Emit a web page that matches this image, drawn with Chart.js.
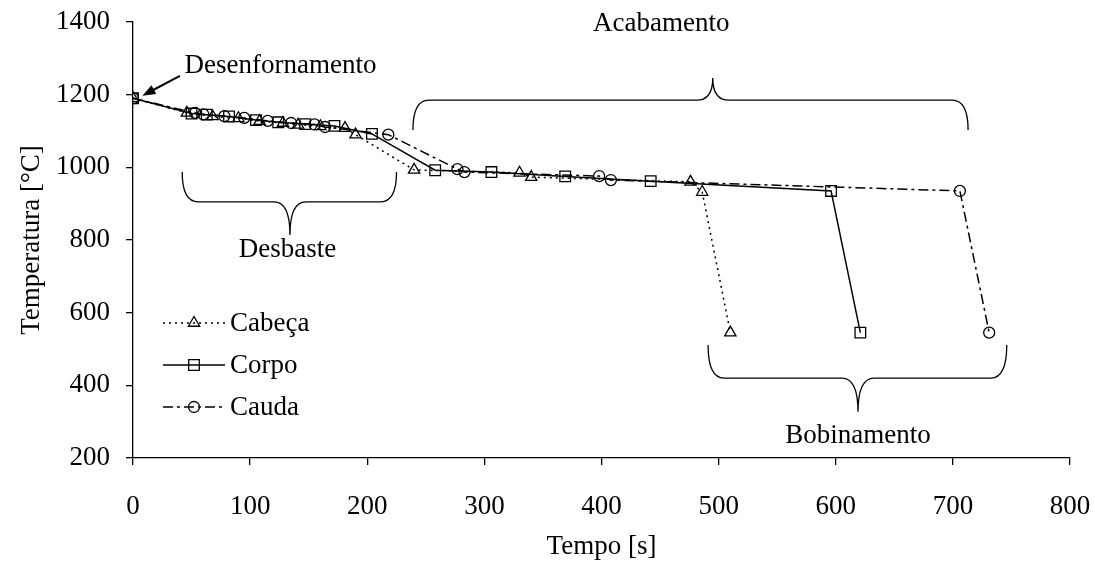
<!DOCTYPE html>
<html>
<head>
<meta charset="utf-8">
<title>Temperatura x Tempo</title>
<script src="https://cdn.jsdelivr.net/npm/chart.js@4.4.0/dist/chart.umd.min.js"></script>
<style>
  html, body { margin: 0; padding: 0; background: #fff; }
  #wrap { width: 1095px; height: 563px; position: relative; }
</style>
</head>
<body>
<div id="wrap"><canvas id="grafico"></canvas></div>
<script>
// tempo [s] e temperatura [°C] de cada posição da placa
var cabecaTempo = [0, 46, 68, 90, 108, 128, 141, 160, 181, 190, 240, 330, 340, 476, 486, 510];
var cabecaTemp  = [1190, 1150, 1140, 1135, 1127, 1122, 1117, 1113, 1108, 1090, 993, 985, 973, 960, 932, 545];

var corpoTempo = [0, 50, 63, 82, 105, 124, 147, 172, 204, 258, 306, 369, 442, 596, 621];
var corpoTemp  = [1190, 1148, 1145, 1140, 1130, 1124, 1119, 1114, 1092, 992, 987, 975, 962, 935, 545];

var caudaTempo = [0, 53, 60, 78, 95, 115, 135, 155, 164, 218, 277, 283, 398, 408, 706, 731];
var caudaTemp  = [1190, 1150, 1146, 1141, 1136, 1128, 1122, 1118, 1111, 1090, 995, 987, 976, 965, 935, 545];

var ticksX = [0, 100, 200, 300, 400, 500, 600, 700, 800];
var ticksY = [200, 400, 600, 800, 1000, 1200, 1400];

var fonte = "'Liberation Serif', 'Times New Roman', serif";
var tamFonte = 27;

function pontos(tempo, temp) {
	return tempo.map(function(t, i) { return { x: t, y: temp[i] }; });
}

// chaves e textos das fases do processo (em unidades dos eixos)
var chaves = [
	{ x1: 42, x2: 225, xc: 134, yPonta: 987, yMeio: 905, yBico: 814 },
	{ x1: 239, x2: 713, xc: 495, yPonta: 1103, yMeio: 1185, yBico: 1246 },
	{ x1: 491, x2: 746, xc: 619, yPonta: 511, yMeio: 420, yBico: 327 }
];
var textos = [
	{ t: 'Desbaste', x: 132, y: 772, align: 'center' },
	{ t: 'Acabamento', x: 451, y: 1395, align: 'center' },
	{ t: 'Bobinamento', x: 619, y: 262, align: 'center' },
	{ t: 'Desenfornamento', x: 44, y: 1280, align: 'left' }
];

function desenhaChave(ctx, x1, x2, xc, yP, yM, yB) {
	var r = Math.min(16, Math.abs(xc - x1) / 3);
	ctx.beginPath();
	ctx.moveTo(x1, yP);
	ctx.quadraticCurveTo(x1, yM, x1 + r, yM);
	ctx.lineTo(xc - r, yM);
	ctx.quadraticCurveTo(xc, yM, xc, yB);
	ctx.quadraticCurveTo(xc, yM, xc + r, yM);
	ctx.lineTo(x2 - r, yM);
	ctx.quadraticCurveTo(x2, yM, x2, yP);
	ctx.stroke();
}

var anotacoes = {
	id: 'anotacoes',
	afterDraw: function(chart) {
		var ctx = chart.ctx;
		var sx = chart.scales.x, sy = chart.scales.y;
		ctx.save();
		ctx.strokeStyle = '#000';
		ctx.lineWidth = 1.3;
		chaves.forEach(function(c) {
			desenhaChave(ctx, sx.getPixelForValue(c.x1), sx.getPixelForValue(c.x2), sx.getPixelForValue(c.xc),
				sy.getPixelForValue(c.yPonta), sy.getPixelForValue(c.yMeio), sy.getPixelForValue(c.yBico));
		});
		ctx.fillStyle = '#000';
		ctx.font = tamFonte + 'px ' + fonte;
		ctx.textBaseline = 'middle';
		textos.forEach(function(a) {
			ctx.textAlign = a.align;
			ctx.fillText(a.t, sx.getPixelForValue(a.x), sy.getPixelForValue(a.y));
		});
		// seta apontando para o desenfornamento
		var ax = sx.getPixelForValue(40), ay = sy.getPixelForValue(1252);
		var bx = sx.getPixelForValue(8), by = sy.getPixelForValue(1197);
		var ang = Math.atan2(by - ay, bx - ax);
		ctx.lineWidth = 2;
		ctx.beginPath();
		ctx.moveTo(ax, ay);
		ctx.lineTo(bx - 8 * Math.cos(ang), by - 8 * Math.sin(ang));
		ctx.stroke();
		ctx.beginPath();
		ctx.moveTo(bx, by);
		ctx.lineTo(bx - 13 * Math.cos(ang) + 5 * Math.sin(ang), by - 13 * Math.sin(ang) - 5 * Math.cos(ang));
		ctx.lineTo(bx - 13 * Math.cos(ang) - 5 * Math.sin(ang), by - 13 * Math.sin(ang) + 5 * Math.cos(ang));
		ctx.closePath();
		ctx.fill();
		ctx.restore();
	}
};

// legenda desenhada dentro da área do gráfico
var legenda = {
	id: 'legendaInterna',
	afterDraw: function(chart) {
		var ctx = chart.ctx;
		var x0 = chart.chartArea.left + 30;
		var y0 = 323;
		ctx.save();
		ctx.font = tamFonte + 'px ' + fonte;
		ctx.textBaseline = 'middle';
		ctx.textAlign = 'left';
		chart.data.datasets.forEach(function(ds, i) {
			var y = y0 + i * 42;
			ctx.strokeStyle = '#000';
			ctx.lineWidth = 1.5;
			ctx.setLineDash(ds.borderDash || []);
			ctx.beginPath();
			ctx.moveTo(x0, y);
			ctx.lineTo(x0 + 62, y);
			ctx.stroke();
			ctx.setLineDash([]);
			ctx.lineWidth = 1.3;
			ctx.fillStyle = 'rgba(255,255,255,0)';
			Chart.helpers.drawPoint(ctx, {
				pointStyle: ds.pointStyle, radius: ds.pointRadius, borderWidth: 1.3
			}, x0 + 31, y);
			ctx.fillStyle = '#000';
			ctx.fillText(ds.label, x0 + 67, y + 1);
		});
		ctx.restore();
	}
};

function serie(label, tempo, temp, estilo, raio, tracejado) {
	return {
		label: label,
		data: pontos(tempo, temp),
		borderColor: '#000',
		backgroundColor: '#fff',
		borderWidth: 1.5,
		borderDash: tracejado,
		pointStyle: estilo,
		pointRadius: raio,
		pointBorderWidth: 1.3,
		pointBorderColor: '#000',
		pointBackgroundColor: 'rgba(255,255,255,0)',
		tension: 0
	};
}

new Chart(document.getElementById('grafico'), {
	type: 'line',
	data: {
		datasets: [
			serie('Cabeça', cabecaTempo, cabecaTemp, 'triangle', 6.5, [2, 4]),
			serie('Corpo', corpoTempo, corpoTemp, 'rect', 7.5, []),
			serie('Cauda', caudaTempo, caudaTemp, 'circle', 5.5, [10, 4, 3, 4])
		]
	},
	options: {
		responsive: true,
		maintainAspectRatio: false,
		animation: false,
		devicePixelRatio: 1,
		layout: { padding: { top: 22, right: 25, left: 0, bottom: 0 } },
		plugins: { legend: { display: false }, tooltip: { enabled: false } },
		scales: {
			x: {
				type: 'linear',
				min: 0, max: 800,
				afterFit: function(s) { s.height = 105; s.paddingLeft = 0; s.paddingRight = 0; },
				afterBuildTicks: function(s) { s.ticks = ticksX.map(function(v) { return { value: v }; }); },
				border: { color: '#000', width: 1.3 },
				grid: { drawOnChartArea: false, color: '#000', tickLength: 7, lineWidth: 1.3 },
				ticks: { color: '#000', font: { family: fonte, size: tamFonte }, padding: 26, maxRotation: 0,
					callback: function(v) { return String(v); } },
				title: { display: true, text: 'Tempo [s]', color: '#000', font: { family: fonte, size: tamFonte }, padding: { top: 4, bottom: 0 } }
			},
			y: {
				min: 200, max: 1400,
				afterFit: function(s) { s.width = 133; s.paddingTop = 0; s.paddingBottom = 0; },
				afterBuildTicks: function(s) { s.ticks = ticksY.map(function(v) { return { value: v }; }); },
				border: { color: '#000', width: 1.3 },
				grid: { drawOnChartArea: false, color: '#000', tickLength: 7, lineWidth: 1.3 },
				ticks: { color: '#000', font: { family: fonte, size: tamFonte }, padding: 16,
					callback: function(v) { return String(v); } },
				title: { display: true, text: 'Temperatura [°C]', color: '#000', font: { family: fonte, size: tamFonte }, padding: { top: 16, bottom: 0 } }
			}
		}
	},
	plugins: [anotacoes, legenda]
});
</script>
</body>
</html>
